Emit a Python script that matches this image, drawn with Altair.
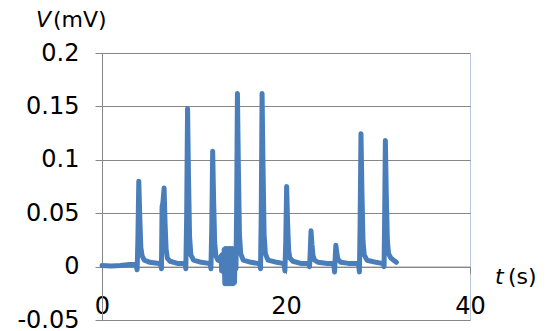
import altair as alt
import pandas as pd

# time (s) and voltage (mV)
t_vals = [
    0.0, 1.0, 2.0, 3.0, 3.5,
    3.68, 3.82, 3.90, 4.00, 4.10, 4.22, 4.36, 4.60, 5.2, 6.2,
    6.38, 6.46, 6.53, 6.62, 6.75, 6.85, 6.97, 7.10, 7.40, 8.2, 8.9,
    9.03, 9.11, 9.20, 9.30, 9.40, 9.52, 9.66, 9.95, 10.8, 11.6,
    11.76, 11.84, 11.93, 12.03, 12.13, 12.25, 12.38, 12.6, 12.9,
    12.95, 13.0, 13.05, 13.1, 13.15, 13.2, 13.28, 13.35, 13.43, 13.5,
    13.58, 13.65, 13.73, 13.8, 13.88, 13.95, 14.03, 14.1, 14.18, 14.25,
    14.33, 14.4, 14.45,
    14.48, 14.56, 14.63, 14.72, 14.82, 14.94, 15.08, 15.35, 16.2, 16.9,
    17.15, 17.23, 17.31, 17.40, 17.50, 17.62, 17.76, 18.05, 19.0, 19.6,
    19.80, 19.88, 19.97, 20.07, 20.17, 20.29, 20.42, 20.75, 21.6, 22.3,
    22.48, 22.56, 22.63, 22.72, 22.82, 22.94, 23.10, 23.5, 24.5, 25.1,
    25.18, 25.28, 25.34, 25.42, 25.52, 25.64, 25.95, 26.8, 27.7,
    27.88, 27.98, 28.05, 28.15, 28.25, 28.37, 28.50, 28.80, 29.8, 30.4,
    30.58, 30.66, 30.71, 30.80, 30.90, 31.02, 31.15, 31.4, 31.7, 32.0,
]
v_vals = [
    0.001, 0.0005, 0.001, 0.002, 0.002,
    0.002, -0.003, 0.025, 0.080, 0.048, 0.018, 0.010, 0.006, 0.004, 0.003,
    0.003, -0.002, 0.056, 0.060, 0.0735, 0.042, 0.016, 0.008, 0.005, 0.003, 0.003,
    0.003, -0.002, 0.045, 0.148, 0.085, 0.028, 0.011, 0.006, 0.004, 0.003,
    0.003, -0.002, 0.036, 0.108, 0.063, 0.022, 0.010, 0.006, 0.005,
    0.010, -0.004, 0.011, -0.004, 0.011, -0.005, 0.016, -0.016, 0.017, -0.016,
    0.017, -0.016, 0.017, -0.016, 0.017, -0.016, 0.017, -0.016, 0.017, -0.016,
    0.016, -0.015, 0.004,
    0.004, -0.002, 0.050, 0.162, 0.095, 0.030, 0.012, 0.006, 0.004, 0.003,
    0.003, -0.002, 0.050, 0.162, 0.095, 0.030, 0.012, 0.006, 0.004, 0.003,
    0.003, -0.004, 0.022, 0.075, 0.042, 0.015, 0.008, 0.005, 0.003, 0.003,
    0.003, 0.000, 0.013, 0.0335, 0.021, 0.010, 0.006, 0.004, 0.003, 0.003,
    0.003, -0.005, 0.007, 0.020, 0.013, 0.007, 0.004, 0.003, 0.003,
    0.003, -0.005, 0.036, 0.1245, 0.072, 0.024, 0.011, 0.006, 0.004, 0.003,
    0.003, 0.000, 0.036, 0.118, 0.068, 0.024, 0.012, 0.008, 0.006, 0.004,
]

x_ticks = [0, 20, 40]
y_ticks = [-0.05, 0, 0.05, 0.1, 0.15, 0.2]

df = pd.DataFrame({"t": t_vals, "v": v_vals, "order": list(range(len(t_vals)))})
one = pd.DataFrame({"k": [0]})

GRAY = "#878787"
FONT = "DejaVu Sans"
H = 267

line = alt.Chart(df).mark_line(
    color="#4a7ebb", strokeWidth=5, strokeCap="round", strokeJoin="round"
).encode(
    x=alt.X("t:Q", scale=alt.Scale(domain=[0, 40], nice=False),
            axis=alt.Axis(values=x_ticks, title=None, grid=False,
                          domainColor=GRAY, tickColor=GRAY, tickSize=7,
                          labelFont=FONT, labelFontSize=24, labelColor="#000",
                          labelPadding=21, labelFlush=False,
                          offset=-H * 0.2)),
    y=alt.Y("v:Q", scale=alt.Scale(domain=[-0.05, 0.2], nice=False, zero=False),
            axis=alt.Axis(values=y_ticks, title=None, grid=True, gridColor=GRAY,
                          domainColor=GRAY, tickColor=GRAY, tickSize=7,
                          labelFont=FONT, labelFontSize=24, labelColor="#000",
                          labelPadding=16,
                          labelExpr="replace(format(datum.value, '~g'), '\u2212', '-')")),
    order="order:Q",
)

txt_style = dict(font=FONT, fontSize=22, color="#000", align="left", baseline="alphabetic")

v_lab = alt.Chart(one).mark_text(fontStyle="italic", **txt_style).encode(
    x=alt.value(-66), y=alt.value(-26), text=alt.value("V"))
mv_lab = alt.Chart(one).mark_text(**txt_style).encode(
    x=alt.value(-49), y=alt.value(-26), text=alt.value("(mV)"))
t_lab = alt.Chart(one).mark_text(fontStyle="italic", **txt_style).encode(
    x=alt.value(393), y=alt.value(231), text=alt.value("t"))
s_lab = alt.Chart(one).mark_text(**txt_style).encode(
    x=alt.value(406), y=alt.value(231), text=alt.value("(s)"))

chart = alt.layer(line, v_lab, mv_lab, t_lab, s_lab).properties(
    width=368, height=H,
    autosize=alt.AutoSizeParams(type="none"),
    padding={"left": 94, "top": 45, "right": 72, "bottom": 10},
    background="white",
).configure_view(stroke="#b7c6d8", strokeWidth=1)

chart.save("out.html", embed_options={"renderer": "svg", "actions": False})
